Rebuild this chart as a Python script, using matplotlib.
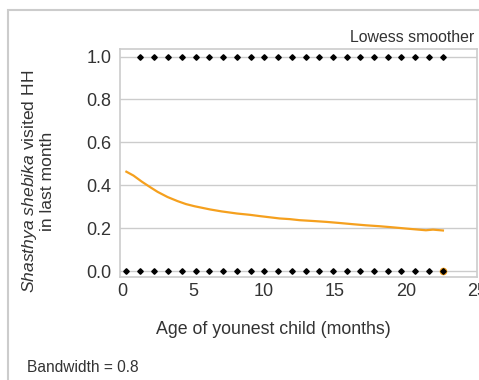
import matplotlib
matplotlib.use("Agg")
import matplotlib.pyplot as plt
from matplotlib.patches import Rectangle

plt.rcParams['font.family'] = ['Liberation Sans', 'DejaVu Sans']
plt.rcParams['mathtext.fontset'] = 'custom'
plt.rcParams['mathtext.it'] = 'Liberation Sans:italic'
plt.rcParams['mathtext.rm'] = 'Liberation Sans'

# ages (months) of observations, visited = 1 / not visited = 0
ages_visited = [1.28, 2.27, 3.25, 4.21, 5.19, 6.15, 7.12, 8.09, 9.05, 10.0, 10.98,
                11.94, 12.93, 13.89, 14.84, 15.83, 16.79, 17.75, 18.71, 19.67,
                20.65, 21.64, 22.62]
ages_not_visited = [0.30, 1.28, 2.27, 3.25, 4.21, 5.19, 6.15, 7.12, 8.09, 9.05, 10.0,
                    10.98, 11.94, 12.93, 13.89, 14.84, 15.83, 16.79, 17.75, 18.71,
                    19.67, 20.65, 21.64]
last_age = 22.62

# lowess smoother
smooth_x = [0.3, 0.8, 1.4, 2.0, 2.5, 3.2, 3.9, 4.5, 5.1, 6.2, 7.0, 8.1, 9.0, 9.7,
            11.1, 11.8, 12.5, 13.5, 14.4, 15.3, 16.3, 17.2, 18.1, 19.0, 20.0,
            20.7, 21.4, 21.9, 22.6]
smooth_y = [0.463, 0.445, 0.416, 0.39, 0.369, 0.345, 0.326, 0.312, 0.302, 0.287,
            0.278, 0.268, 0.262, 0.256, 0.245, 0.242, 0.237, 0.233, 0.229, 0.224,
            0.218, 0.213, 0.209, 0.204, 0.198, 0.194, 0.190, 0.193, 0.189]

xticks = [0, 5, 10, 15, 20, 25]
yticks = [0.0, 0.2, 0.4, 0.6, 0.8, 1.0]

orange = '#F5A01E'
grey = '#cccccc'
txt = '#333333'

fig = plt.figure(figsize=(4.79, 3.80), dpi=100)

# outer frame (cut off at right/bottom)
fig.patches.append(Rectangle((8 / 479, -0.2), 1.2, 0.2 + 1 - 10 / 380,
                             transform=fig.transFigure, fill=False,
                             edgecolor=grey, lw=1.5))

ax = fig.add_axes([0.2505, 0.271, 0.7453, 0.600])
ax.plot(smooth_x, smooth_y, color=orange, lw=1.6, zorder=3)
ax.plot(ages_visited, [1] * len(ages_visited), 'D', color='black', ms=2.8, zorder=4)
ax.plot(ages_not_visited, [0] * len(ages_not_visited), 'D', color='black', ms=2.8, zorder=4)
ax.plot([last_age], [0], 'o', color=orange, ms=4.5, zorder=4)
ax.plot([last_age], [0], 'D', color='black', ms=2.8, zorder=5)

ax.set_xlim(-0.15, 25.0)
ax.set_ylim(-0.028, 1.035)
ax.set_xticks(xticks)
ax.set_yticks(yticks)
ax.set_xticklabels([str(t) for t in xticks])
ax.set_yticklabels(['%.1f' % t for t in yticks])
ax.tick_params(length=0, labelsize=13, labelcolor=txt)
ax.tick_params(axis='y', pad=6)
ax.tick_params(axis='x', pad=4)
ax.grid(axis='y', color=grey, lw=1)
ax.set_axisbelow(True)
for s in ax.spines.values():
    s.set_color(grey)
    s.set_linewidth(1.2)

fig.text(273 / 479, 1 - 329 / 380, 'Age of younest child (months)', ha='center',
         va='center', fontsize=12.8, color=txt)
fig.text(37.5 / 479, 1 - 181 / 380,
         '$\\it{Shasthya\\ shebika}$ visited HH\nin last month', rotation=90,
         ha='center', va='center', multialignment='center', fontsize=12.6,
         color=txt, linespacing=1.0)
fig.text(474 / 479, 1 - 38 / 380, 'Lowess smoother', ha='right', va='center',
         fontsize=11.4, color=txt)
fig.text(27 / 479, 1 - 368 / 380, 'Bandwidth = 0.8', ha='left', va='center',
         fontsize=11.2, color=txt)

fig.savefig('out.png', dpi=100)
